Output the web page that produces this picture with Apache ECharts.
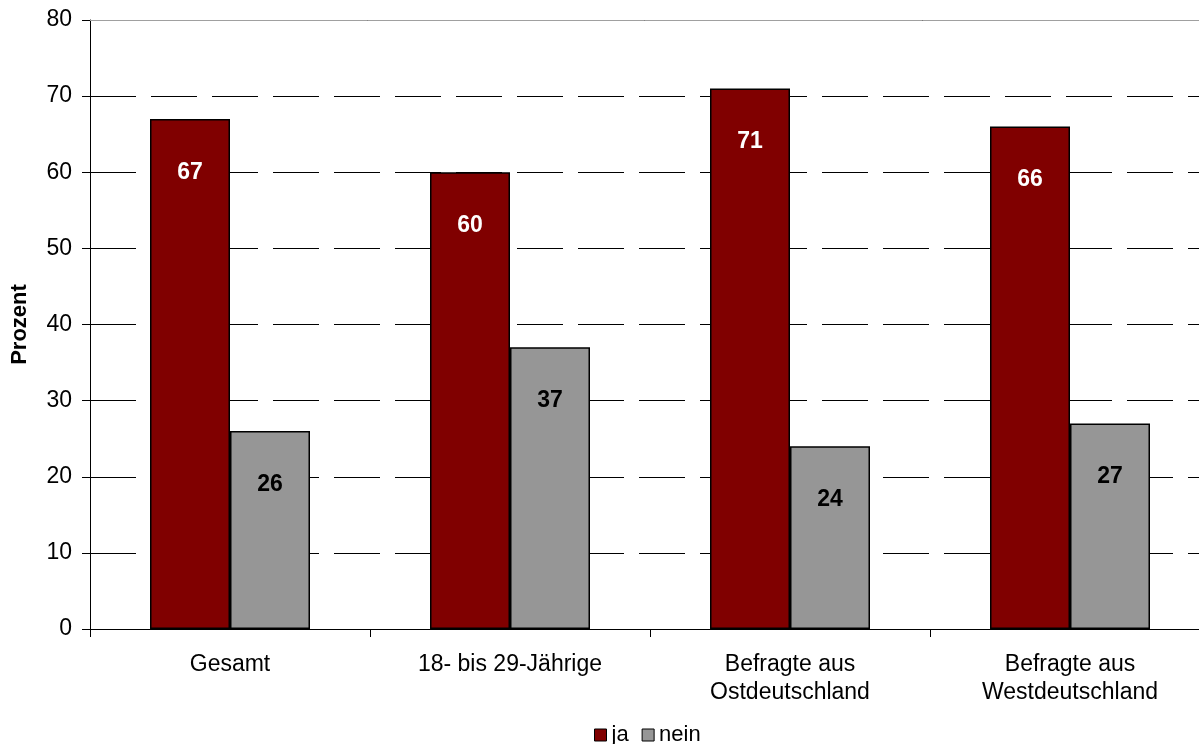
<!DOCTYPE html>
<html>
<head>
<meta charset="utf-8">
<script src="https://cdn.jsdelivr.net/npm/echarts@6/dist/echarts.min.js"></script>
<style>html,body{margin:0;padding:0;background:#fff;}#c{width:1199px;height:744px;}</style>
</head>
<body>
<div id="c"></div>
<script>
const categories = ['Gesamt', '18- bis 29-Jährige', 'Befragte aus\nOstdeutschland', 'Befragte aus\nWestdeutschland'];
const jaValues = [67, 60, 71, 66];
const neinValues = [26, 37, 24, 27];
const yTicks = [0, 10, 20, 30, 40, 50, 60, 70, 80];

const chart = echarts.init(document.getElementById('c'), null, {renderer: 'canvas'});
const font = 'Liberation Sans, Arial, sans-serif';
chart.setOption({
  animation: false,
  textStyle: {fontFamily: font},
  grid: {left: 90, width: 1120, top: 20, height: 609, containLabel: false, outerBoundsMode: 'none'},
  legend: {
    data: ['ja', 'nein'],
    left: 589, top: 719,
    itemWidth: 12, itemHeight: 12, itemGap: 13,
    icon: 'rect',
    itemStyle: {borderColor: '#000', borderWidth: 1},
    textStyle: {fontSize: 22, color: '#000', fontFamily: font}
  },
  xAxis: [{
    type: 'category',
    data: categories,
    axisLine: {lineStyle: {color: '#000', width: 1}},
    axisTick: {show: true, length: 8, lineStyle: {color: '#000'}},
    axisLabel: {fontSize: 23, color: '#000', margin: 22, lineHeight: 28, fontFamily: font, interval: 0}
  }, {
    type: 'category',
    position: 'top',
    data: categories,
    axisLine: {show: true, lineStyle: {color: '#a0a0a0', width: 1}},
    axisTick: {show: false},
    axisLabel: {show: false}
  }],
  yAxis: {
    type: 'value',
    min: 0, max: 80, interval: 10,
    name: 'Prozent',
    nameLocation: 'middle',
    nameGap: 59,
    nameTextStyle: {fontSize: 22, fontWeight: 'bold', color: '#000', fontFamily: font},
    axisLine: {show: true, lineStyle: {color: '#000'}},
    axisTick: {show: true, length: 8, lineStyle: {color: '#000'}},
    axisLabel: {fontSize: 23, color: '#000', margin: 18, fontFamily: font,
      formatter: v => yTicks.includes(v) ? String(v) : ''},
    splitLine: {show: true, lineStyle: {color: '#000', width: 1, type: [46, 15]}}
  },
  series: [{
    name: 'ja', type: 'bar', data: jaValues,
    barWidth: 80, barGap: '0%',
    itemStyle: {color: '#800000', borderColor: '#000', borderWidth: 1.5},
    label: {show: true, position: 'insideTop', distance: 42, color: '#fff', fontSize: 23, fontWeight: 'bold', fontFamily: font}
  }, {
    name: 'nein', type: 'bar', data: neinValues,
    barWidth: 80,
    itemStyle: {color: '#969696', borderColor: '#000', borderWidth: 1.5},
    label: {show: true, position: 'insideTop', distance: 42, color: '#000', fontSize: 23, fontWeight: 'bold', fontFamily: font}
  }]
});
</script>
</body>
</html>
